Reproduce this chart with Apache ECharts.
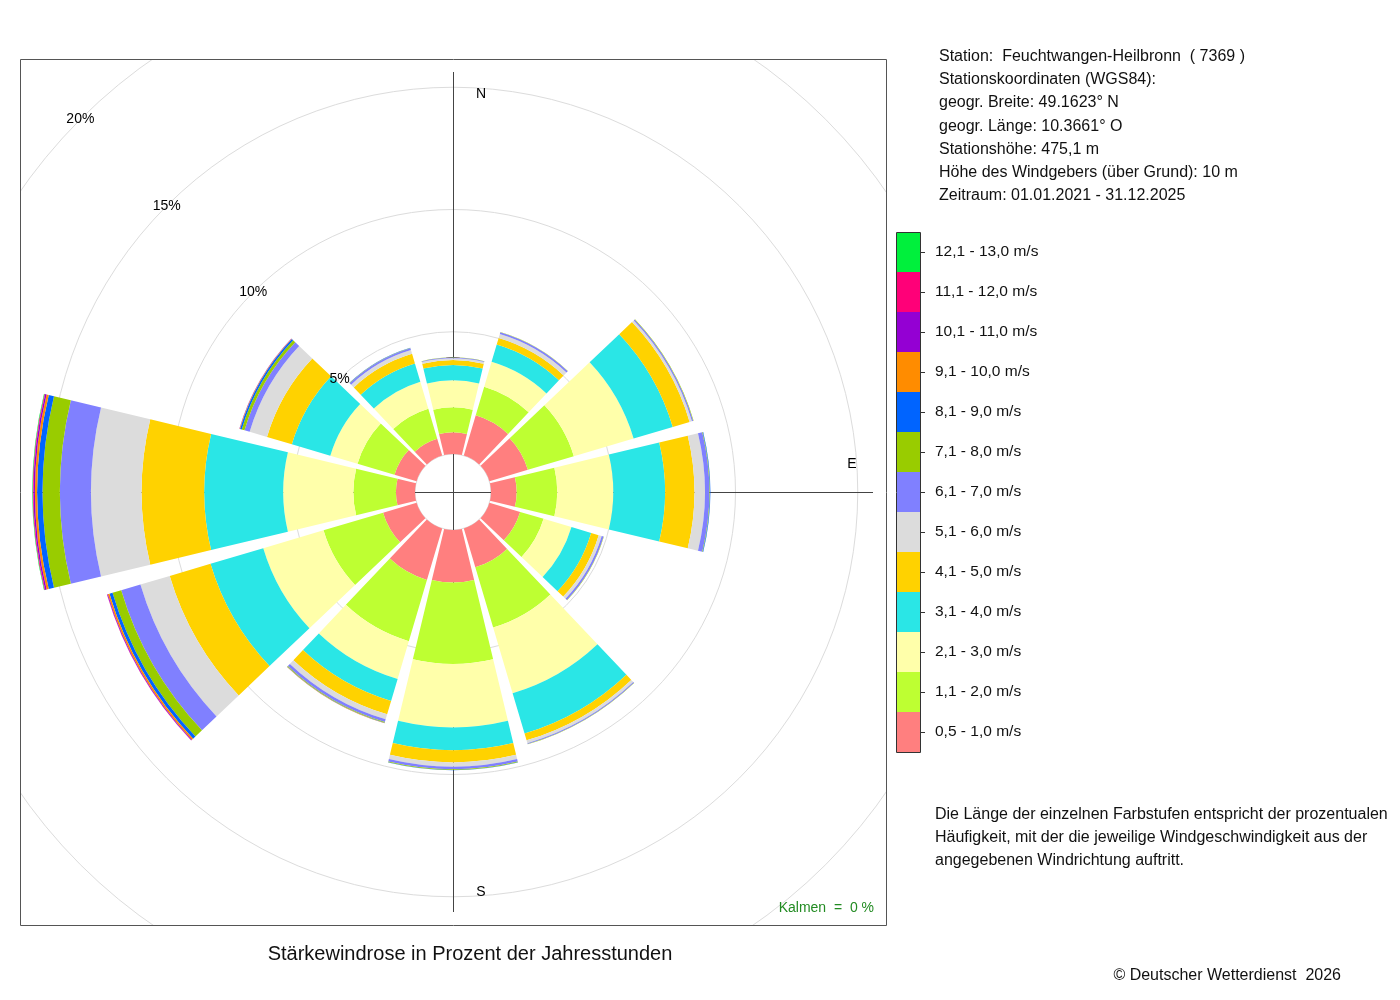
<!DOCTYPE html>
<html>
<head>
<meta charset="utf-8">
<script src="https://cdn.jsdelivr.net/npm/echarts@6/dist/echarts.min.js"></script>
<style>
html, body { margin: 0; padding: 0; background: #fff; }
#main { width: 1400px; height: 1000px; }
</style>
</head>
<body>
<div id="main"></div>
<script>
// Windrichtungen (12 Sektoren, 30 Grad)
var directions = ['N', 'NNO', 'ONO', 'O', 'OSO', 'SSO', 'S', 'SSW', 'WSW', 'W', 'WNW', 'NNW'];

// Geschwindigkeitsklassen
var classes = ['0,5 - 1,0 m/s', '1,1 - 2,0 m/s', '2,1 - 3,0 m/s', '3,1 - 4,0 m/s', '4,1 - 5,0 m/s',
	'5,1 - 6,0 m/s', '6,1 - 7,0 m/s', '7,1 - 8,0 m/s', '8,1 - 9,0 m/s', '9,1 - 10,0 m/s',
	'10,1 - 11,0 m/s', '11,1 - 12,0 m/s', '12,1 - 13,0 m/s'];

// Prozent der Jahresstunden je Klasse und Richtung
var v05_10 = [0.89, 1.72, 1.64, 1.05, 1.31, 1.66, 2.15, 2.20, 1.43, 0.78, 0.94, 0.72];
var v11_20 = [1.02, 1.22, 1.96, 1.66, 1.00, 2.57, 3.33, 2.61, 2.54, 1.74, 1.58, 1.28];
var v21_30 = [1.10, 1.06, 2.55, 2.29, 1.19, 2.80, 2.59, 1.61, 2.57, 2.87, 1.16, 1.15];
var v31_40 = [0.63, 0.74, 1.67, 2.12, 0.84, 1.72, 0.93, 0.94, 2.25, 3.23, 1.64, 0.78];
var v41_50 = [0.20, 0.28, 0.72, 1.20, 0.32, 0.29, 0.50, 0.57, 1.74, 2.56, 1.06, 0.41];
var v51_60 = [0.07, 0.17, 0.10, 0.43, 0.13, 0.12, 0.18, 0.21, 1.25, 2.07, 0.74, 0.16];
var v61_70 = [0.03, 0.07, 0.05, 0.18, 0.08, 0.04, 0.10, 0.12, 0.82, 1.27, 0.22, 0.08];
var v71_80 = [0.01, 0.01, 0.02, 0.02, 0.01, 0.01, 0.03, 0.03, 0.37, 0.71, 0.12, 0.01];
var v81_90 = [0, 0, 0, 0.02, 0, 0, 0.01, 0.01, 0.13, 0.22, 0.07, 0.01];
var v91_100 = [0, 0, 0, 0, 0, 0, 0, 0.01, 0.07, 0.09, 0.02, 0];
var v101_110 = [0, 0, 0, 0, 0, 0, 0, 0, 0.03, 0.06, 0.01, 0];
var v111_120 = [0, 0, 0, 0, 0, 0, 0, 0, 0.01, 0.03, 0, 0];
var v121_130 = [0, 0, 0, 0, 0, 0, 0, 0, 0, 0.02, 0, 0];

var classData = [v05_10, v11_20, v21_30, v31_40, v41_50, v51_60, v61_70, v71_80,
	v81_90, v91_100, v101_110, v111_120, v121_130];

// Ringe
var ringMax = 20;
var ringStep = 5;

var colors = ['#FF7F7F', '#BEFF32', '#FFFFAA', '#2AE6E6', '#FFD200', '#DCDCDC', '#8080FF',
	'#99CC00', '#0064FF', '#FF8C00', '#9400D3', '#FF0078', '#00F03C'];

var font = 'Liberation Sans, Arial, Helvetica, sans-serif';
var cx = 453, cy = 492, r0 = 38, r1 = 527;
var axisLen = 420;

var main = document.getElementById('main');
var myChart = echarts.init(main);

var series = [];
for (var i = 0; i < classes.length; i++) {
	series.push({
		name: classes[i],
		type: 'bar',
		coordinateSystem: 'polar',
		polarIndex: 0,
		stack: 'wind',
		barCategoryGap: '10%',
		data: classData[i],
		itemStyle: { color: colors[i] },
		emphasis: { disabled: true },
		animation: false,
		z: 2
	});
}

var legendData = classes.slice().reverse();

var ticks = [];
for (var k = 0; k < classes.length; k++) {
	ticks.push({
		type: 'line', z: 70,
		shape: { x1: 920, y1: 252.5 + 40 * k, x2: 925, y2: 252.5 + 40 * k },
		style: { stroke: '#333', lineWidth: 1 }
	});
}

var infoLines = [
	'Station:  Feuchtwangen-Heilbronn  ( 7369 )',
	'Stationskoordinaten (WGS84):',
	'geogr. Breite: 49.1623° N',
	'geogr. Länge: 10.3661° O',
	'Stationshöhe: 475,1 m',
	'Höhe des Windgebers (über Grund): 10 m',
	'Zeitraum: 01.01.2021 - 31.12.2025'
];

var graphics = [
	// Achsenkreuz
	{ type: 'line', z: 1, shape: { x1: cx + 0.5, y1: cy - axisLen, x2: cx + 0.5, y2: cy + axisLen }, style: { stroke: '#444', lineWidth: 1 } },
	{ type: 'line', z: 1, shape: { x1: cx - axisLen, y1: cy + 0.5, x2: cx + axisLen, y2: cy + 0.5 }, style: { stroke: '#444', lineWidth: 1 } },
	// Masken ausserhalb des Rahmens
	{ type: 'rect', z: 50, shape: { x: 0, y: 0, width: 1400, height: 59 }, style: { fill: '#fff' } },
	{ type: 'rect', z: 50, shape: { x: 0, y: 0, width: 20, height: 1000 }, style: { fill: '#fff' } },
	{ type: 'rect', z: 50, shape: { x: 886.5, y: 0, width: 520, height: 1000 }, style: { fill: '#fff' } },
	{ type: 'rect', z: 50, shape: { x: 0, y: 925.5, width: 1400, height: 80 }, style: { fill: '#fff' } },
	// Rahmen
	{ type: 'rect', z: 60, shape: { x: 20.5, y: 59.5, width: 866, height: 866 }, style: { fill: 'none', stroke: '#555', lineWidth: 1 } },
	// Himmelsrichtungen
	{ type: 'text', z: 60, x: cx + 28, y: cy - 398, style: { text: 'N', font: '14px ' + font, fill: '#000', align: 'center', verticalAlign: 'middle' } },
	{ type: 'text', z: 60, x: cx + 399, y: cy - 28, style: { text: 'E', font: '14px ' + font, fill: '#000', align: 'center', verticalAlign: 'middle' } },
	{ type: 'text', z: 60, x: cx + 28, y: cy + 400, style: { text: 'S', font: '14px ' + font, fill: '#000', align: 'center', verticalAlign: 'middle' } },
	{ type: 'text', z: 60, x: 874, y: 908, style: { text: 'Kalmen  =  0 %', font: '14px ' + font, fill: '#228B22', align: 'right', verticalAlign: 'middle' } },
	// Titel
	{ type: 'text', z: 60, x: 470, y: 954, style: { text: 'Stärkewindrose in Prozent der Jahresstunden', font: '20px ' + font, fill: '#111', align: 'center', verticalAlign: 'middle' } },
	// Stationsangaben
	{ type: 'text', z: 60, x: 939, y: 45, style: { text: infoLines.join('\n'), font: '16px ' + font, lineHeight: 23.2, fill: '#111', align: 'left', verticalAlign: 'top' } },
	// Legende Rahmen
	{ type: 'rect', z: 70, shape: { x: 896.5, y: 232.5, width: 24, height: 520 }, style: { fill: 'none', stroke: '#333', lineWidth: 1 } },
	// Erklaerung
	{ type: 'text', z: 60, x: 935, y: 803, style: { text: 'Die Länge der einzelnen Farbstufen entspricht der prozentualen\nHäufigkeit, mit der die jeweilige Windgeschwindigkeit aus der\nangegebenen Windrichtung auftritt.', font: '16px ' + font, lineHeight: 23, fill: '#111', align: 'left', verticalAlign: 'top' } },
	{ type: 'text', z: 60, x: 1341, y: 976, style: { text: '© Deutscher Wetterdienst  2026', font: '16px ' + font, fill: '#111', align: 'right', verticalAlign: 'middle' } }
].concat(ticks);

var option = {
	backgroundColor: '#fff',
	animation: false,
	polar: [{
		center: [cx, cy],
		radius: [r0, r1]
	}, {
		center: [cx, cy],
		radius: [r0, r1]
	}],
	angleAxis: [{
		polarIndex: 0,
		type: 'category',
		data: directions,
		startAngle: 105,
		clockwise: true,
		axisLine: { show: false },
		axisTick: { show: false },
		axisLabel: { show: false },
		splitLine: { show: false }
	}, {
		polarIndex: 1,
		type: 'value',
		min: 0,
		max: 360,
		startAngle: 135,
		show: false
	}],
	radiusAxis: [{
		polarIndex: 0,
		min: 0,
		max: ringMax,
		interval: ringStep,
		axisLine: { show: false },
		axisTick: { show: false },
		axisLabel: { show: false },
		splitLine: { show: true, lineStyle: { color: '#DCDCDC', width: 1 } }
	}, {
		polarIndex: 1,
		min: 0,
		max: ringMax,
		interval: ringStep,
		z: 10,
		axisLine: { show: false },
		axisTick: { show: false },
		splitLine: { show: false },
		axisLabel: {
			margin: 0,
			align: 'center',
			verticalAlign: 'middle',
			fontFamily: font,
			fontSize: 14,
			color: '#000',
			formatter: function (v) { return v ? v + '%' : ''; }
		}
	}],
	legend: {
		left: 897,
		top: 232,
		orient: 'vertical',
		padding: 0,
		itemGap: 0,
		itemWidth: 23,
		itemHeight: 40,
		icon: 'rect',
		selectedMode: false,
		z: 60,
		data: legendData,
		textStyle: {
			fontFamily: font,
			fontSize: 15.5,
			color: '#111',
			padding: [8, 0, 0, 10]
		}
	},
	graphic: graphics,
	series: series
};

myChart.setOption(option);
</script>
</body>
</html>
